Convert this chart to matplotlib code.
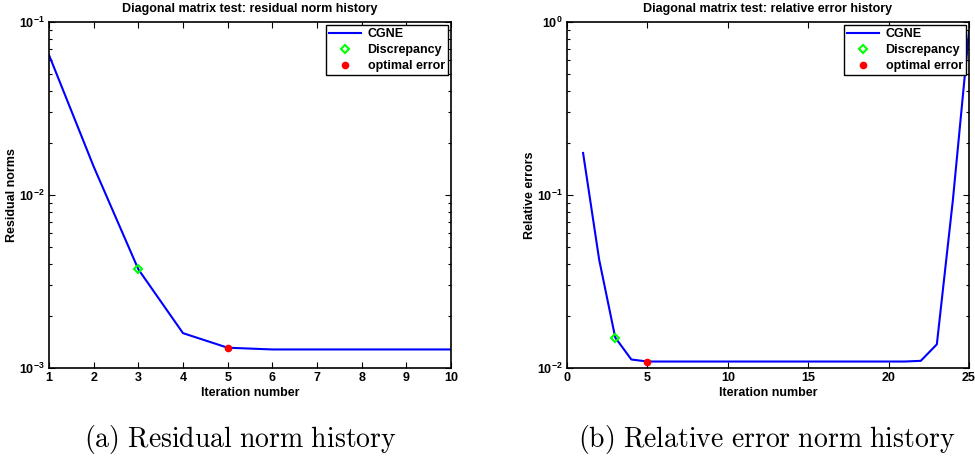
import numpy as np
import matplotlib
matplotlib.use('Agg')
from matplotlib import pyplot as plt
from matplotlib import font_manager as fm
from matplotlib.ticker import FuncFormatter, LogLocator, NullFormatter

# residual norm history (CGNE, diagonal matrix test)
res_iter = [1, 2, 3, 4, 5, 6, 7, 8, 9, 10]
res_norm = [0.0645, 0.0146, 0.00372, 0.00159, 0.00131,
            0.00128, 0.00128, 0.00128, 0.00128, 0.00128]
res_discrepancy = 3
res_optimal = 5

# relative error history
err_iter = list(range(1, 26))
err_norm = [0.175, 0.0423, 0.0150, 0.0112, 0.0109, 0.0109, 0.0109, 0.0109,
            0.0109, 0.0109, 0.0109, 0.0109, 0.0109, 0.0109, 0.0109, 0.0109,
            0.0109, 0.0109, 0.0109, 0.0109, 0.0109, 0.0110, 0.0137, 0.094, 0.88]
err_discrepancy = 3
err_optimal = 5

# pick the regular-width bold Liberation Sans file
bold_file = None
for f in fm.fontManager.ttflist:
    if f.name == 'Liberation Sans' and f.weight in (700, 'bold') \
            and f.style == 'normal' and 'Narrow' not in f.fname:
        bold_file = f.fname
        break
fp = fm.FontProperties(fname=bold_file) if bold_file else fm.FontProperties(weight='bold')
fname = fp.get_name()

plt.rcParams['font.family'] = [fname, 'DejaVu Sans']
plt.rcParams['font.weight'] = 'bold'
plt.rcParams['mathtext.fontset'] = 'custom'
plt.rcParams['mathtext.rm'] = fname + ':bold'
plt.rcParams['mathtext.bf'] = fname + ':bold'

FS = 9

fig = plt.figure(figsize=(9.75, 4.7), dpi=100)
W, H = 975.0, 470.0
ax1 = fig.add_axes([49 / W, (H - 368) / H, 402 / W, 346 / H])
ax2 = fig.add_axes([567 / W, (H - 368) / H, 402 / W, 346 / H])


def pow10(v, pos):
    return r'$\mathbf{10^{%d}}$' % int(round(np.log10(v)))


def history(ax, it, vals, i_disc, i_opt, title, ylabel, xlim, xticks, ylim):
    ax.semilogy(it, vals, '-', color='#0000ff', lw=1.5, label='CGNE')
    ax.plot(it[i_disc - 1], vals[i_disc - 1], 'D', mfc='none', mec='#00ff00',
            mew=1.5, ms=4.5, label='Discrepancy')
    ax.plot(it[i_opt - 1], vals[i_opt - 1], 'o', color='#ff0000', ms=4.5,
            label='optimal error')
    ax.set_xlim(*xlim)
    ax.set_ylim(*ylim)
    ax.set_xticks(xticks)
    ax.yaxis.set_major_locator(LogLocator(base=10))
    ax.yaxis.set_minor_locator(LogLocator(base=10, subs=np.arange(2, 10)))
    ax.yaxis.set_major_formatter(FuncFormatter(pow10))
    ax.yaxis.set_minor_formatter(NullFormatter())
    ax.tick_params(which='both', direction='in', top=True, right=True,
                   labelsize=FS, width=0.8)
    ax.tick_params(which='major', length=4, pad=3)
    ax.tick_params(which='minor', length=2.5)
    for s in ax.spines.values():
        s.set_linewidth(1.2)
    ax.set_title(title, fontsize=FS, fontweight='bold', pad=7)
    ax.set_xlabel('Iteration number', fontsize=FS, fontweight='bold', labelpad=2)
    ax.set_ylabel(ylabel, fontsize=FS, fontweight='bold')
    ax.yaxis.set_label_coords(-0.078, 0.5)
    leg = ax.legend(loc='upper right', bbox_to_anchor=(1.0, 1.0), fontsize=FS,
                    borderaxespad=0.25, fancybox=False, framealpha=1,
                    edgecolor='black', handlelength=2.6, handletextpad=0.5,
                    borderpad=0.25, labelspacing=0.32)
    leg.get_frame().set_linewidth(1.0)
    for t in leg.get_texts():
        t.set_fontweight('bold')


history(ax1, res_iter, res_norm, res_discrepancy, res_optimal,
        'Diagonal matrix test: residual norm history', 'Residual norms',
        (1, 10), range(1, 11), (1e-3, 1e-1))
history(ax2, err_iter, err_norm, err_discrepancy, err_optimal,
        'Diagonal matrix test: relative error history', 'Relative errors',
        (0, 25), range(0, 26, 5), (1e-2, 1e0))

# sub-figure captions
fig.text(240 / W, 1 - 439 / H, r'$\mathrm{(a)\ Residual\ norm\ history}$',
         ha='center', va='center', fontsize=20, math_fontfamily='cm')
fig.text(767 / W, 1 - 439 / H, r'$\mathrm{(b)\ Relative\ error\ norm\ history}$',
         ha='center', va='center', fontsize=20, math_fontfamily='cm')

fig.savefig('out.png', dpi=100)
